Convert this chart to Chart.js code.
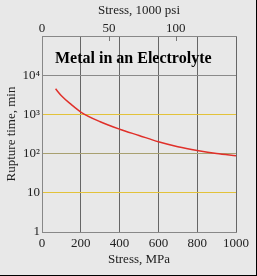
<!DOCTYPE html>
<html>
<head>
<meta charset="utf-8">
<script src="https://cdn.jsdelivr.net/npm/chart.js@4.4.1/dist/chart.umd.min.js"></script>
<style>
  html, body { margin: 0; padding: 0; background: #e8e8e8; }
  #wrap { width: 256px; height: 275px; border-right: 1px solid #000; border-bottom: 1px solid #000; background: #e8e8e8; }
  canvas { display: block; }
</style>
</head>
<body>
<div id="wrap"><canvas id="rupChart" width="256" height="275"></canvas></div>
<script>
const stressMPa = [70, 100, 150, 200, 300, 400, 500, 600, 700, 800, 900, 1000];
const ruptureMin = [4500, 3000, 1800, 1150, 650, 420, 290, 200, 150, 120, 100, 88];
const ksiTicks = [0, 50, 100];
const decades = [1, 10, 100, 1000, 10000, 100000];
const decadeLabels = { 1: '1', 10: '10', 100: '10²', 1000: '10³', 10000: '10⁴' };
const chartTitle = 'Metal in an Electrolyte';
const MPA_PER_KSI = 6.895;

const serif = '"Liberation Serif", "DejaVu Serif", serif';
const hGridColor = { 1: '#a08080', 10: '#e2c23a', 100: '#a8a070', 1000: '#e2c23a', 10000: '#8a8a8a', 100000: '#888' };

// title inside the plot, and small tick marks on the top edge pointing in
const overlay = {
    id: 'overlay',
    afterDraw(chart) {
        const s = chart.scales.x2, ctx = chart.ctx, area = chart.chartArea;
        ctx.save();
        ctx.strokeStyle = '#777';
        ctx.lineWidth = 1;
        [50, 100].forEach(v => {
            const px = Math.round(s.getPixelForValue(v)) + 0.5;
            ctx.beginPath();
            ctx.moveTo(px, area.top);
            ctx.lineTo(px, area.top + 5);
            ctx.stroke();
        });
        ctx.fillStyle = '#000';
        ctx.font = 'bold 16px ' + serif;
        ctx.textAlign = 'left';
        ctx.textBaseline = 'alphabetic';
        ctx.fillText(chartTitle, 55, 63);
        ctx.restore();
    }
};

const ctx = document.getElementById('rupChart').getContext('2d');
new Chart(ctx, {
    type: 'line',
    data: {
        datasets: [{
            data: stressMPa.map((x, i) => ({ x: x, y: ruptureMin[i] })),
            borderColor: '#e0302a',
            borderWidth: 1.5,
            pointRadius: 0,
            cubicInterpolationMode: 'monotone',
            xAxisID: 'x',
            yAxisID: 'y'
        }]
    },
    options: {
        responsive: false,
        animation: false,
        layout: { padding: { left: 0, right: 20, top: 0, bottom: 8 } },
        plugins: {
            legend: { display: false },
            tooltip: { enabled: false }
        },
        scales: {
            x: {
                type: 'linear',
                position: 'bottom',
                min: 0, max: 1000,
                ticks: { stepSize: 200, color: '#222', font: { family: serif, size: 13 }, padding: 4, callback: v => String(v) },
                grid: { color: '#666', tickLength: 0 },
                border: { color: '#888' },
                title: { display: true, text: 'Stress, MPa', color: '#222', font: { family: serif, size: 13 }, padding: { top: 0, bottom: 0 } },
                afterFit(s) { s.height = 35; }
            },
            x2: {
                type: 'linear',
                position: 'top',
                min: 0, max: 1000 / MPA_PER_KSI,
                afterBuildTicks(s) { s.ticks = ksiTicks.map(v => ({ value: v })); },
                ticks: { color: '#222', font: { family: serif, size: 13 }, padding: 0 },
                grid: { drawOnChartArea: false, tickLength: 0 },
                border: { color: '#888' },
                title: { display: true, text: 'Stress, 1000 psi', color: '#222', font: { family: serif, size: 13 }, padding: { top: 3, bottom: 4 } },
                afterFit(s) { s.height = 36; }
            },
            y: {
                type: 'logarithmic',
                min: 1, max: 100000,
                afterBuildTicks(s) { s.ticks = decades.map(v => ({ value: v })); },
                ticks: {
                    color: '#222',
                    font: { family: serif, size: 13 },
                    padding: 2,
                    callback: v => decadeLabels[v] || ''
                },
                grid: {
                    tickLength: 0,
                    color: c => hGridColor[Math.round(c.tick ? c.tick.value : 1)] || '#e2c23a'
                },
                border: { color: '#888' },
                title: { display: true, text: 'Rupture time, min', color: '#222', font: { family: serif, size: 13 }, padding: { top: 4, bottom: 0 } },
                afterFit(s) { s.width = 42; }
            }
        }
    },
    plugins: [overlay]
});
</script>
</body>
</html>
